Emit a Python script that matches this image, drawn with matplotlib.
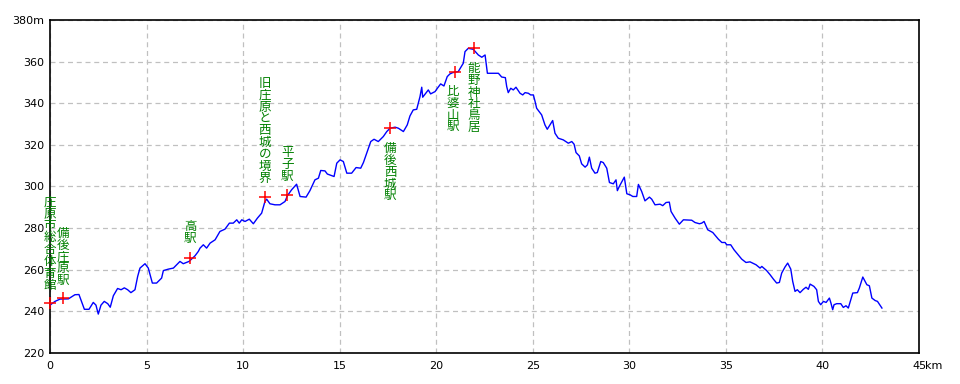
import matplotlib
matplotlib.use("Agg")
import matplotlib.pyplot as plt

# elevation profile (km, m)
dist_km = [
    0.0, 0.26, 0.52, 0.95, 1.29, 1.5, 1.6, 1.78, 2.02, 2.24, 2.38, 2.5, 2.64, 2.81, 2.99,
    3.12, 3.28, 3.5, 3.68, 3.85, 4.02, 4.19, 4.4, 4.54, 4.66, 4.92, 5.09, 5.3, 5.52, 5.78,
    5.87, 6.13, 6.39, 6.73, 6.9, 7.2, 7.51, 7.68, 7.77, 7.94, 8.11, 8.29, 8.55, 8.8, 9.06,
    9.29, 9.49, 9.67, 9.8, 9.93, 10.1, 10.32, 10.53, 10.74, 10.96, 11.13, 11.22, 11.39, 11.65, 11.91,
    12.17, 12.29, 12.51, 12.77, 12.95, 13.26, 13.46, 13.72, 13.9, 14.02, 14.24, 14.36, 14.71, 14.85, 15.02,
    15.19, 15.37, 15.62, 15.85, 16.09, 16.23, 16.4, 16.61, 16.78, 17.0, 17.26, 17.44, 17.61, 17.87, 18.04,
    18.3, 18.5, 18.64, 18.81, 18.99, 19.16, 19.25, 19.3, 19.59, 19.71, 19.94, 20.06, 20.23, 20.4, 20.57,
    20.71, 20.85, 21.14, 21.4, 21.49, 21.66, 21.92, 22.18, 22.36, 22.53, 22.65, 23.22, 23.39, 23.58, 23.65,
    23.73, 23.86, 23.99, 24.13, 24.34, 24.48, 24.6, 24.77, 24.89, 25.03, 25.12, 25.2, 25.46, 25.63, 25.75,
    26.03, 26.15, 26.32, 26.58, 26.84, 27.02, 27.14, 27.24, 27.41, 27.53, 27.71, 27.83, 27.93, 28.05, 28.22,
    28.34, 28.52, 28.65, 28.83, 28.97, 29.17, 29.31, 29.38, 29.48, 29.74, 29.87, 30.04, 30.18, 30.38, 30.47,
    30.64, 30.81, 31.04, 31.16, 31.33, 31.59, 31.73, 31.9, 32.07, 32.16, 32.37, 32.59, 32.8, 33.23, 33.4,
    33.63, 33.75, 33.87, 34.06, 34.32, 34.61, 34.79, 34.96, 35.04, 35.25, 35.42, 35.82, 36.04, 36.25, 36.56,
    36.77, 36.86, 37.11, 37.29, 37.46, 37.63, 37.77, 37.89, 38.06, 38.2, 38.36, 38.46, 38.58, 38.7, 38.84,
    39.01, 39.15, 39.27, 39.36, 39.56, 39.7, 39.79, 39.91, 40.05, 40.19, 40.36, 40.44, 40.53, 40.6, 40.74,
    40.95, 41.08, 41.22, 41.34, 41.57, 41.81, 41.91, 42.09, 42.3, 42.43, 42.56, 42.73, 42.85, 43.08,
]
elev_m = [
    243, 244.8, 245.9, 246, 248, 248.1, 245.6, 241, 241, 244.3, 243, 238.7, 243, 244.8, 243.7,
    242, 247.5, 251, 250.4, 251.3, 250.4, 249, 250.4, 256.8, 260.8, 262.9, 260.8, 253.6, 253.6, 256,
    259.6, 260.3, 260.8, 264, 262.9, 264, 266.7, 268.8, 270.4, 272, 270.4, 272.8, 274.4, 278.4, 279.5,
    282.4, 282.4, 284, 282.4, 284, 283.2, 284.3, 282.1, 284.8, 287.2, 292.8, 293.9, 291.7, 291.2, 291.2,
    292.8, 295.5, 298.4, 301.1, 295.2, 294.9, 298, 303.2, 304, 307.7, 307.5, 306, 304.8, 311.2, 312.8,
    312, 306.4, 306.4, 309.1, 308.8, 311.5, 316, 321.6, 322.7, 321.6, 324, 326.4, 328, 328.5, 328,
    326.4, 329.6, 333.9, 336.8, 337.1, 343.2, 347.7, 342.9, 346.4, 344.5, 345.6, 347.2, 349.3, 348.3, 352.8,
    354.1, 354.7, 355.2, 359.2, 364.8, 366.4, 365.9, 363.2, 362.1, 363.2, 354.4, 354.4, 352.6, 352.3, 348,
    345.1, 347.2, 346.4, 347.7, 344.8, 344, 345.1, 344.8, 344, 344, 340.8, 337.6, 334.4, 329.6, 327.5,
    331.7, 325.6, 323.2, 322.4, 320.8, 321.6, 320.3, 316.3, 314.7, 310.9, 309.3, 310.4, 314.1, 308.8, 306.4,
    306.7, 312, 311.5, 308.8, 301.9, 301.3, 303.2, 298, 300, 304.5, 296.5, 296, 295.2, 295.2, 301,
    297.6, 293.1, 294.9, 293.9, 291.2, 291.5, 290.8, 292.3, 292.5, 288, 284.8, 281.9, 284, 283.8, 282.7,
    282.1, 282.4, 283.2, 279.2, 277.9, 274.7, 273.1, 273.1, 272, 272, 269.6, 265.1, 263.5, 263.8, 262.4,
    260.8, 261.6, 259.6, 257.6, 255.5, 253.6, 253.9, 258.4, 261.3, 263.2, 260.3, 254.4, 249.6, 250.4, 249,
    250.6, 251.6, 250.6, 253.1, 252, 250.4, 244.8, 243.2, 244.8, 244.3, 246.4, 244, 240.8, 243.2, 243.7,
    243.7, 241.9, 242.7, 241.6, 248.8, 249, 251.2, 256.5, 252.8, 252.3, 246.4, 245.2, 244.8, 241.6,
]

# waypoints
point_names = ["庄原市総合体育館", "備後庄原駅", "高駅", "旧庄原と西城の境界", "平子駅",
               "備後西城駅", "比婆山駅", "能野神社鳥居"]
point_km = [0.0, 0.67, 7.25, 11.13, 12.28, 17.61, 20.97, 21.96]
point_m = [244, 246.5, 265.7, 295, 296, 328, 355, 366.6]

# label placement: x offset (km) and top of the vertical text (m)
label_dx = [0.0, 0.0, 0.0, 0.0, 0.0, 0.0, -0.1, 0.0]
label_top = [295.5, 280.6, 284, 352.6, 319.5, 321.4, 348.8, 359.8]

x_ticks = [0, 5, 10, 15, 20, 25, 30, 35, 40, 45]
y_ticks = [220, 240, 260, 280, 300, 320, 340, 360, 380]

fig = plt.figure(figsize=(9.6, 3.84), dpi=100)
ax = fig.add_axes([50 / 960, 1 - 353 / 384, 869 / 960, 333 / 384])

ax.plot(dist_km, elev_m, color="#0000ff", linewidth=1.0, zorder=3)
ax.plot(point_km, point_m, linestyle="none", marker="+", color="#ff0000",
        markersize=9, markeredgewidth=1.1, zorder=4, clip_on=False)

# vertical labels, one character at a time
char_step = 8.5  # points
for name, x, dx, top in zip(point_names, point_km, label_dx, label_top):
    for i, ch in enumerate(name):
        ax.annotate(ch, xy=(x + dx, top), xytext=(0, -i * char_step),
                    textcoords="offset points", ha="center", va="top",
                    fontsize=9, color="#008000", family="Noto Sans CJK JP",
                    zorder=5, annotation_clip=False)

ax.set_xlim(0, 45)
ax.set_ylim(220, 380)
ax.set_xticks(x_ticks)
ax.set_yticks(y_ticks)
ax.set_xticklabels([str(t) for t in x_ticks])
ax.set_yticklabels([str(t) for t in y_ticks[:-1]] + ["380m"])
ax.tick_params(length=0, labelsize=8)
ax.tick_params(axis="y", pad=4)
ax.tick_params(axis="x", pad=6)

# unit after the last x tick label
ax.annotate("km", xy=(x_ticks[-1], 0), xycoords=("data", "axes fraction"),
            xytext=(4.5, -6), textcoords="offset points", ha="left", va="top",
            fontsize=8, annotation_clip=False)

ax.grid(True, color="#c0c0c0", linestyle=(0, (4, 3)), linewidth=0.9)
ax.set_axisbelow(True)
for sp in ax.spines.values():
    sp.set_color("black")
    sp.set_linewidth(1.2)

fig.savefig("out.png", dpi=100)
